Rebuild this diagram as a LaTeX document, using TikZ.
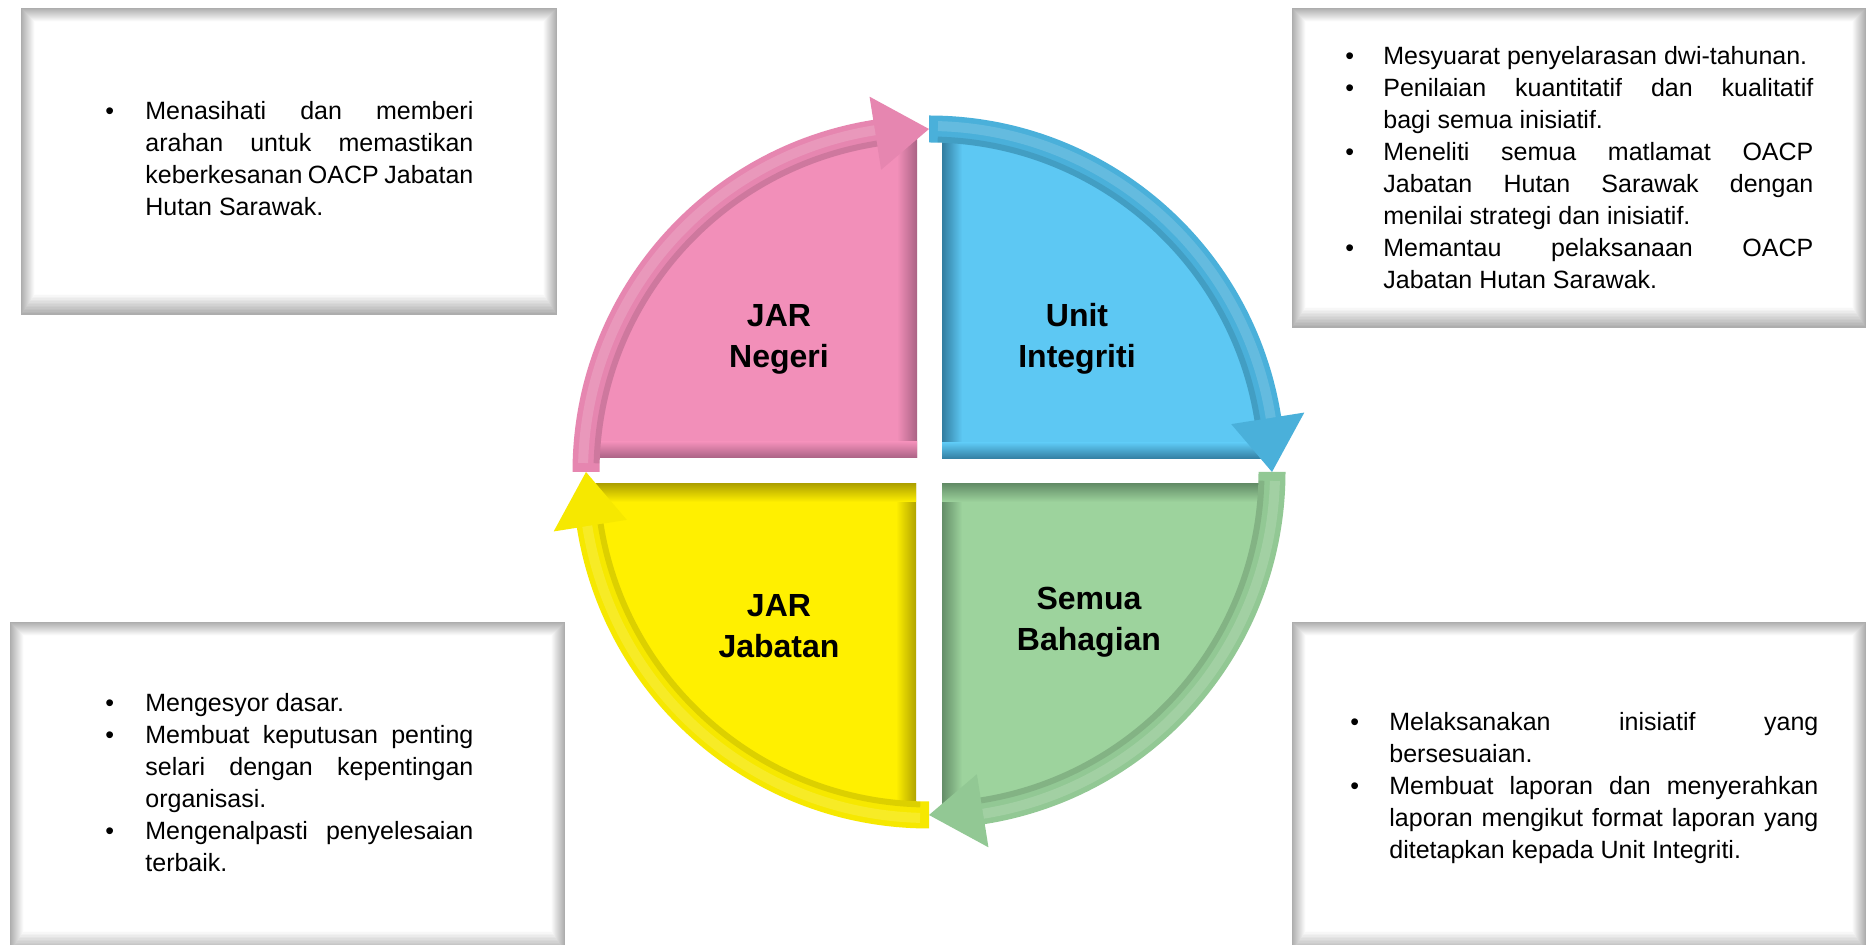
\documentclass[tikz,border=0pt]{standalone}
\usepackage{fontspec}
\setmainfont{Liberation Sans}
\definecolor{pinkq}{RGB}{242,143,185}
\definecolor{pinkd}{RGB}{170,98,132}
\definecolor{pinka}{RGB}{230,134,176}
\definecolor{blueq}{RGB}{93,200,243}
\definecolor{blued}{RGB}{50,125,160}
\definecolor{bluea}{RGB}{74,176,218}
\definecolor{yelq}{RGB}{255,240,0}
\definecolor{yeld}{RGB}{176,163,0}
\definecolor{yela}{RGB}{246,232,0}
\definecolor{grnq}{RGB}{157,211,157}
\definecolor{grnd}{RGB}{100,142,104}
\definecolor{grna}{RGB}{146,200,148}
\newlength\lm
\newlength\tw
\newcommand\jline[1]{\makebox[\tw][s]{\spaceskip=0pt\xspaceskip=0pt #1}\break}
\newcommand\bitem{\par\noindent\hangindent=\lm\hangafter=1\makebox[\lm][l]{\textbullet}}
\newcommand\softbox[4]{%
  \foreach \i in {0,...,13}{%
    \pgfmathsetmacro\g{max(0,32-2.4*\i)}%
    \fill[black!\g] (#1+\i,#2+\i) rectangle (#3-\i,#4-1.5*\i);
  }%
  \fill[white] (#1+14,#2+14) rectangle (#3-14,#4-21);
}
\newcommand\cyclarrow[3]{%
  \pgfmathsetmacro\bb{#2-9}%
  \pgfmathsetmacro\ss{#1+1.5}%
  \fill[#3] (#1:356.5) arc[start angle=#1, end angle=\bb, radius=356.5] -- (\bb:380) -- (#2:343) -- (\bb:306) -- (\bb:329.5) arc[start angle=\bb, end angle=#1, radius=329.5] -- cycle;
  \draw[white, opacity=0.15, line width=5pt] (\ss:346) arc[start angle=\ss, end angle=\bb, radius=346];
  \draw[black, opacity=0.10, line width=3pt] (\ss:332.5) arc[start angle=\ss, end angle=\bb, radius=332.5];
}
\tikzset{
  txt/.style={inner sep=0pt, anchor=north west, align=justify, font=\fontsize{12.5}{16}\selectfont},
  lbl/.style={inner sep=0pt, align=center, font=\bfseries\fontsize{16}{20.5}\selectfont}
}
\begin{document}
\begin{tikzpicture}[x=0.5pt,y=-0.5pt]
\useasboundingbox (0,0) rectangle (1870,945);
\fill[white] (0,0) rectangle (1870,945);

% text boxes
\softbox{21}{8}{557}{315}
\softbox{1292}{8}{1866}{328}
\softbox{10}{622}{565}{952}
\softbox{1292}{622}{1866}{952}

% quadrants
\begin{scope}
  \clip (500,90) rectangle (917,458);
  \clip (929,472) circle[radius=345];
  \fill[pinkq] (500,90) rectangle (917,458);
  \shade[left color=pinkq, right color=pinkd] (897,90) rectangle (917,458);
  \shade[top color=pinkq, bottom color=pinkd] (560,442) rectangle (917,458);
\end{scope}
\begin{scope}
  \clip (942,90) rectangle (1300,459);
  \clip (929,472) circle[radius=345];
  \fill[blueq] (942,90) rectangle (1300,459);
  \shade[right color=blueq, left color=blued] (942,90) rectangle (962,459);
  \shade[top color=blueq, bottom color=blued] (942,443) rectangle (1300,459);
\end{scope}
\begin{scope}
  \clip (560,484) rectangle (916,840);
  \clip (929,472) circle[radius=345];
  \fill[yelq] (560,484) rectangle (916,840);
  \shade[left color=yelq, right color=yeld] (896,484) rectangle (916,840);
  \shade[bottom color=yelq, top color=yeld] (560,484) rectangle (916,502);
\end{scope}
\begin{scope}
  \clip (942,484) rectangle (1300,840);
  \clip (929,472) circle[radius=345];
  \fill[grnq] (942,484) rectangle (1300,840);
  \shade[right color=grnq, left color=grnd] (942,484) rectangle (962,840);
  \shade[bottom color=grnq, top color=grnd] (942,484) rectangle (1300,502);
\end{scope}

% cycle arrows
\begin{scope}[shift={(929,472)}]
  \cyclarrow{180}{270}{pinka}
  \cyclarrow{270}{360}{bluea}
  \cyclarrow{0}{90}{grna}
  \cyclarrow{90}{180}{yela}
\end{scope}

% quadrant labels
\node[lbl] (negeri) at (779,339) {JAR\\Negeri};
\node[lbl] (unit) at (1077,339) {Unit\\Integriti};
\node[lbl] (jabatan) at (779,626) {JAR\\Jabatan};
\node[lbl] (semua) at (1089,622) {Semua\\Bahagian};

% box texts
\node[txt, text width=184pt] (tltext) at (105,87) {\setlength\lm{20pt}\setlength\tw{164pt}%
\bitem\jline{Menasihati dan memberi}\jline{arahan untuk memastikan}\jline{keberkesanan OACP Jabatan}Hutan Sarawak.\par};
\node[txt, text width=234pt] (trtext) at (1345,32) {\setlength\lm{19pt}\setlength\tw{215pt}%
\bitem Mesyuarat penyelarasan dwi-tahunan.
\bitem\jline{Penilaian kuantitatif dan kualitatif}bagi semua inisiatif.
\bitem\jline{Meneliti semua matlamat OACP}\jline{Jabatan Hutan Sarawak dengan}menilai strategi dan inisiatif.
\bitem\jline{Memantau pelaksanaan OACP}Jabatan Hutan Sarawak.\par};
\node[txt, text width=184pt] (bltext) at (105,679) {\setlength\lm{20pt}\setlength\tw{164pt}%
\bitem Mengesyor dasar.
\bitem\jline{Membuat keputusan penting}\jline{selari dengan kepentingan}organisasi.
\bitem\jline{Mengenalpasti penyelesaian}terbaik.\par};
\node[txt, text width=234pt] (brtext) at (1350,698) {\setlength\lm{19.5pt}\setlength\tw{214.5pt}%
\bitem\jline{Melaksanakan inisiatif yang}bersesuaian.
\bitem\jline{Membuat laporan dan menyerahkan}\jline{laporan mengikut format laporan yang}ditetapkan kepada Unit Integriti.\par};
\end{tikzpicture}
\end{document}
